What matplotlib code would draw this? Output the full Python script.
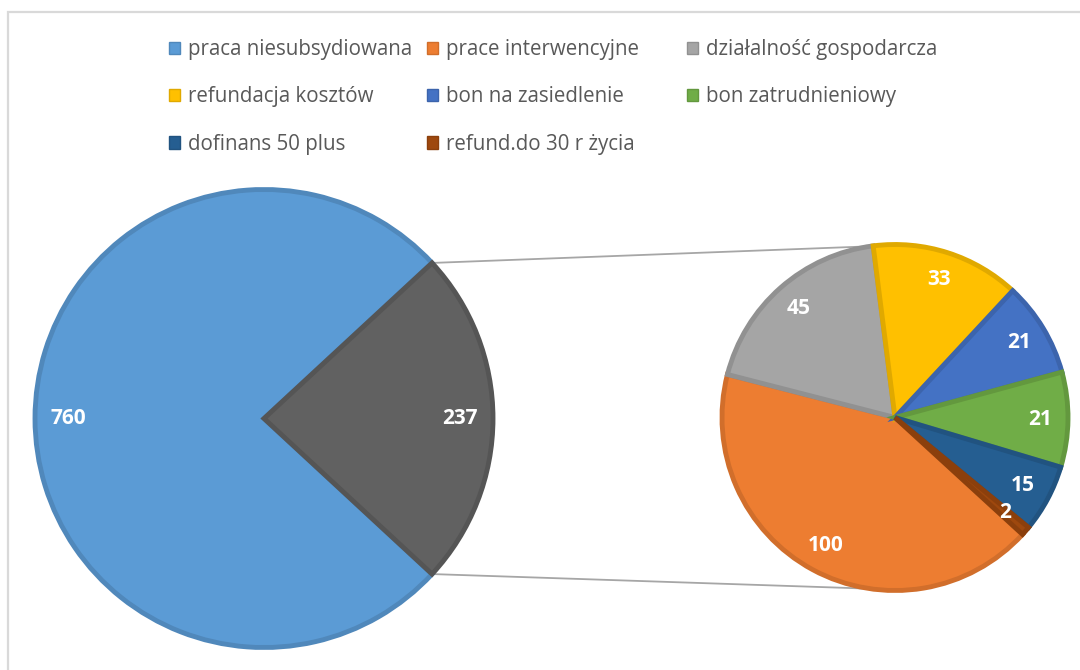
import numpy as np
import matplotlib.pyplot as plt
from matplotlib.patches import Patch, Rectangle
from matplotlib.colors import to_rgb

# data
categories = ["praca niesubsydiowana", "prace interwencyjne", "działalność gospodarcza",
              "refundacja kosztów", "bon na zasiedlenie", "bon zatrudnieniowy",
              "dofinans 50 plus", "refund.do 30 r życia"]
values = [760, 100, 45, 33, 21, 21, 15, 2]
colors = ["#5B9BD5", "#ED7D31", "#A5A5A5", "#FFC000", "#4472C4", "#70AD47", "#255E91", "#9E480E"]
other_color = "#616161"

main_vals = [values[0], sum(values[1:])]
sub_vals = values[1:]


def darker(c, f=0.88):
    return tuple(v * f for v in to_rgb(c))


plt.rcParams['font.family'] = ['Open Sans', 'DejaVu Sans']

fig = plt.figure(figsize=(10.8, 6.7), dpi=100)
ax = fig.add_axes([0, 0, 1, 1])

# outer frame of the chart area
fig.patches.append(Rectangle((7.5 / 1080, -0.1), 1.2, (670 - 11.5) / 670 + 0.1,
                             transform=fig.transFigure, fill=False,
                             edgecolor="#d9d9d9", linewidth=1.6))

lc = (264, 251.5); lr = 229
rc = (895, 252.5); rr = 173

# left pie: clockwise, "other" slice centered at 0 deg
other_span = 360 * main_vals[1] / sum(main_vals)
main_cols = [colors[0], other_color]
w1 = ax.pie(main_vals, center=lc, radius=lr, startangle=-other_span / 2,
            counterclock=False, colors=main_cols,
            wedgeprops=dict(linewidth=3.5))[0]
for w, c in zip(w1, main_cols):
    w.set_edgecolor(darker(c))
for v, w in zip(main_vals, w1):
    a = np.deg2rad((w.theta1 + w.theta2) / 2)
    ax.text(lc[0] + 0.855 * lr * np.cos(a), lc[1] + 0.855 * lr * np.sin(a), str(v),
            color="white", fontsize=15, fontweight="bold", ha="center", va="center")

# right pie
sub_cols = colors[1:]
w2 = ax.pie(sub_vals, center=rc, radius=rr, startangle=-42.5,
            counterclock=False, colors=sub_cols,
            wedgeprops=dict(linewidth=3.5))[0]
for w, c in zip(w2, sub_cols):
    w.set_edgecolor(darker(c))
for v, w in zip(sub_vals, w2):
    a = np.deg2rad((w.theta1 + w.theta2) / 2)
    ax.text(rc[0] + 0.84 * rr * np.cos(a), rc[1] + 0.84 * rr * np.sin(a), str(v),
            color="white", fontsize=15, fontweight="bold", ha="center", va="center")

# connector lines
for s in (1, -1):
    a1 = np.deg2rad(s * other_span / 2)
    a2 = np.deg2rad(s * 98.3)
    ax.plot([lc[0] + lr * np.cos(a1), rc[0] + rr * np.cos(a2)],
            [lc[1] + lr * np.sin(a1), rc[1] + rr * np.sin(a2)],
            color="#a6a6a6", linewidth=1.3, zorder=0)

ax.set_xlim(0, 1080)
ax.set_ylim(0, 670)
ax.set_aspect("equal")
ax.axis("off")

# legend, row-wise with equal column widths
col_x = [169, 427, 687]
for j in range(3):
    idx = list(range(j, len(categories), 3))
    handles = [Patch(facecolor=colors[i], edgecolor=darker(colors[i])) for i in idx]
    fig.legend(handles, [categories[i] for i in idx], loc="upper left",
               bbox_to_anchor=(col_x[j] / 1080, 1 - 39 / 670), frameon=False,
               fontsize=14.8, labelcolor="#595959", handlelength=0.55, handleheight=0.55,
               handletextpad=0.35, labelspacing=1.28, borderpad=0, borderaxespad=0)

fig.savefig("out.png", dpi=100)
